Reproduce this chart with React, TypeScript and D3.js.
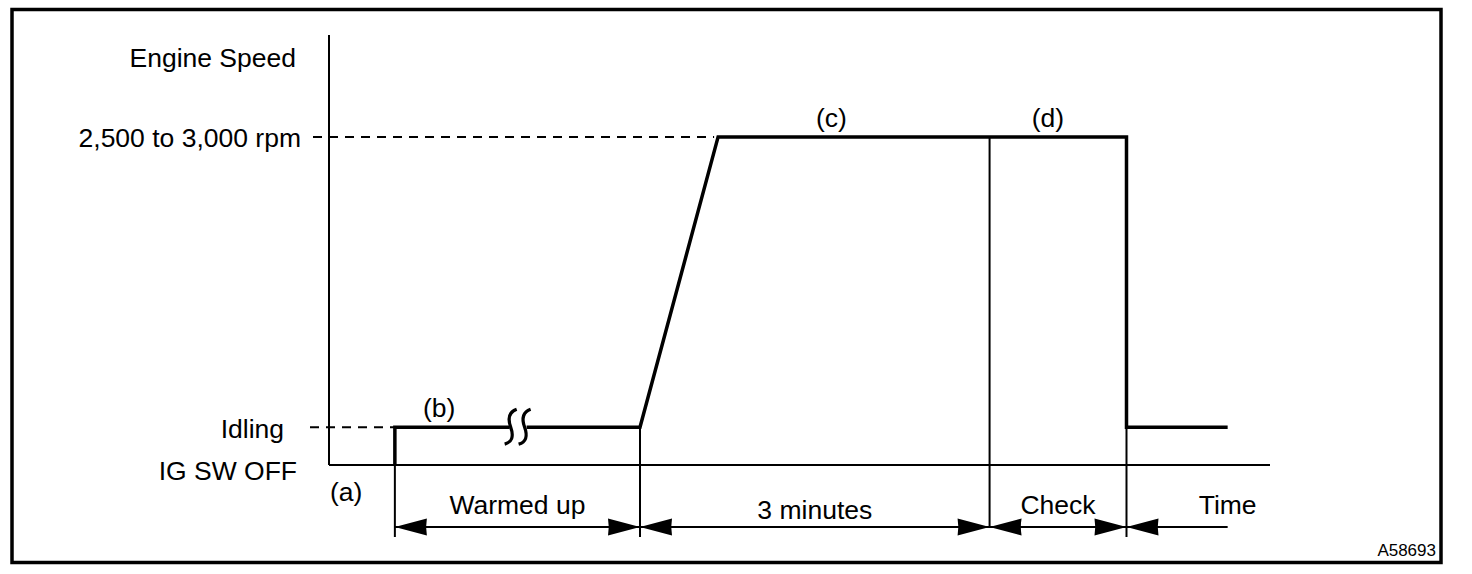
import { useEffect, useRef } from "react";
import * as d3 from "d3";

// levels on the speed axis (abstract units, 0 = IG SW OFF)
const levelNames = ["IG SW OFF", "Idling", "2,500 to 3,000 rpm"];
const levelValues = [0, 0.088, 0.763];

// time marks (abstract units)
const tStart = 7;
const tRampStart = 33.05;
const tRampEnd = 41.35;
const tCheck = 70.2;
const tStop = 84.75;
const tEnd = 95.5;
const tBreak = [19.2, 21.0];

// speed trace, split into segments as drawn
const traceLeft: [number, number][] = [
  [tStart, 0],
  [tStart, 1],
  [tBreak[0], 1],
];
const traceMid: [number, number][] = [
  [tBreak[1], 1],
  [tRampStart, 1],
  [tRampEnd, 2],
  [tStop, 2],
  [tStop, 1],
  [tEnd, 1],
];

// dimension row
const spans = [
  { label: "Warmed up", from: tStart, to: tRampStart },
  { label: "3 minutes", from: tRampStart, to: tCheck },
  { label: "Check", from: tCheck, to: tStop },
];
const spanEnds = [tStart, tRampStart, tCheck, tStop];

const phaseLabels = [
  { label: "(b)", t: 11.7, level: 1 },
  { label: "(c)", t: 53.4, level: 2 },
  { label: "(d)", t: 76.4, level: 2 },
];

const W = 1472;
const H = 574;
const FONT = "'Liberation Sans', Arial, Helvetica, sans-serif";

export default function App() {
  const svgRef = useRef<SVGSVGElement>(null);

  useEffect(() => {
    document.body.style.margin = "0";
    if (!svgRef.current) return;
    const svg = d3.select(svgRef.current);
    svg.selectAll("*").remove();

    const x = d3.scaleLinear().domain([0, 100]).range([329, 1270]);
    const y = d3.scaleLinear().domain([0, 1]).range([465, 35]);
    const yl = (i: number) => y(levelValues[i]);
    const dimY = 527;

    svg.append("rect").attr("width", W).attr("height", H).attr("fill", "#fff");

    // outer frame
    svg
      .append("rect")
      .attr("x", 12)
      .attr("y", 9.5)
      .attr("width", 1429)
      .attr("height", 553)
      .attr("fill", "none")
      .attr("stroke", "#000")
      .attr("stroke-width", 3.5);

    const g = svg.append("g").attr("fill", "none").attr("stroke", "#000");

    // axes
    g.append("line")
      .attr("x1", x(0)).attr("x2", x(0))
      .attr("y1", y(1)).attr("y2", y(0))
      .attr("stroke-width", 2);
    g.append("line")
      .attr("x1", x(0)).attr("x2", x(100))
      .attr("y1", y(0)).attr("y2", y(0))
      .attr("stroke-width", 2);

    // dashed guide lines
    g.append("line")
      .attr("x1", 313).attr("x2", x(tRampEnd) - 4)
      .attr("y1", yl(2)).attr("y2", yl(2))
      .attr("stroke-width", 2)
      .attr("stroke-dasharray", "9,7");
    g.append("line")
      .attr("x1", 310).attr("x2", x(tStart))
      .attr("y1", yl(1)).attr("y2", yl(1))
      .attr("stroke-width", 2)
      .attr("stroke-dasharray", "9,7");

    // thin vertical boundaries
    const thin = [
      { t: tStart, top: yl(0), bottom: dimY + 10 },
      { t: tRampStart, top: yl(1), bottom: dimY + 10 },
      { t: tCheck, top: yl(2), bottom: dimY },
      { t: tStop, top: yl(1), bottom: dimY + 10 },
    ];
    g.selectAll(".vline")
      .data(thin)
      .enter()
      .append("line")
      .attr("x1", (d) => x(d.t)).attr("x2", (d) => x(d.t))
      .attr("y1", (d) => d.top).attr("y2", (d) => d.bottom)
      .attr("stroke-width", 2);

    // speed trace
    const line = d3
      .line<[number, number]>()
      .x((d) => x(d[0]))
      .y((d) => yl(d[1]));
    [traceLeft, traceMid].forEach((seg) => {
      g.append("path")
        .attr("d", line(seg))
        .attr("stroke-width", 3.5)
        .attr("stroke-linejoin", "miter");
    });

    // break mark
    tBreak.forEach((t, i) => {
      const cx = x(t) + (i === 0 ? 1 : -2);
      const cy = yl(1);
      const p = d3.path();
      p.moveTo(cx + 6, cy - 18);
      p.quadraticCurveTo(cx - 5, cy - 14, cx, cy);
      p.quadraticCurveTo(cx + 5, cy + 14, cx - 6, cy + 17);
      g.append("path").attr("d", p.toString()).attr("stroke-width", 3.2);
    });

    // dimension line
    g.append("line")
      .attr("x1", x(tStart)).attr("x2", x(tEnd))
      .attr("y1", dimY).attr("y2", dimY)
      .attr("stroke-width", 2);

    const arrow = (tipX: number, dir: number) => {
      const p = d3.path();
      const len = 32;
      const hh = 8.5;
      p.moveTo(tipX, dimY);
      p.lineTo(tipX + dir * len, dimY - hh);
      p.quadraticCurveTo(tipX + dir * (len - 1.5), dimY, tipX + dir * len, dimY + hh);
      p.closePath();
      return p.toString();
    };
    const heads: { tip: number; dir: number }[] = [];
    spanEnds.forEach((t, i) => {
      if (i > 0) heads.push({ tip: x(t), dir: -1 });
      heads.push({ tip: x(t), dir: 1 });
    });
    svg
      .selectAll(".arrow")
      .data(heads)
      .enter()
      .append("path")
      .attr("d", (d) => arrow(d.tip, d.dir))
      .attr("fill", "#000");

    // text
    const text = svg
      .append("g")
      .attr("font-family", FONT)
      .attr("font-size", 26.5)
      .attr("fill", "#000");

    text.append("text")
      .attr("x", 296).attr("y", 67)
      .attr("text-anchor", "end")
      .text("Engine Speed");

    const levelLabelY = [480, 438, 147];
    const levelLabelX = [297, 284, 301];
    levelNames.forEach((name, i) => {
      text.append("text")
        .attr("x", levelLabelX[i]).attr("y", levelLabelY[i])
        .attr("text-anchor", "end")
        .text(name);
    });

    text.append("text").attr("x", 330).attr("y", 501).text("(a)");

    text.selectAll(".phase")
      .data(phaseLabels)
      .enter()
      .append("text")
      .attr("x", (d) => x(d.t))
      .attr("y", (d) => yl(d.level) - 10)
      .attr("text-anchor", "middle")
      .text((d) => d.label);

    const spanLabelY = [514, 519, 514];
    text.selectAll(".span")
      .data(spans)
      .enter()
      .append("text")
      .attr("x", (d) => (x(d.from) + x(d.to)) / 2)
      .attr("y", (_d, i) => spanLabelY[i])
      .attr("text-anchor", "middle")
      .text((d) => d.label);

    text.append("text")
      .attr("x", x(tEnd)).attr("y", 514)
      .attr("text-anchor", "middle")
      .text("Time");

    text.append("text")
      .attr("x", 1436).attr("y", 556)
      .attr("text-anchor", "end")
      .attr("font-size", 17)
      .text("A58693");
  }, []);

  return <svg ref={svgRef} width={W} height={H} style={{ display: "block" }} />;
}
